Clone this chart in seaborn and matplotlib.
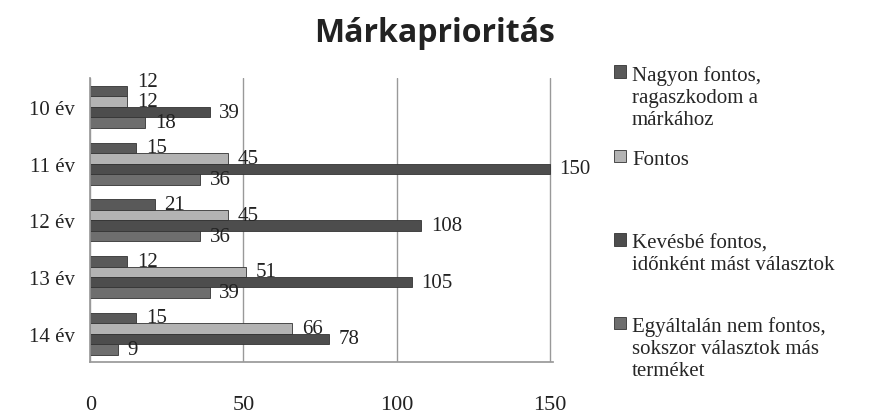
import pandas as pd
import matplotlib
matplotlib.use("Agg")
import matplotlib.pyplot as plt
import seaborn as sns

years = ["10 év", "11 év", "12 év", "13 év", "14 év"]
# blank lines keep the legend rows evenly spaced like the original
series = [
    "Nagyon fontos,\nragaszkodom a\nmárkához",
    "Fontos\n\n",
    "Kevésbé fontos,\nidőnként mást választok\n",
    "Egyáltalán nem fontos,\nsokszor választok más\nterméket",
]
nagyon = [12, 15, 21, 12, 15]
fontos = [12, 45, 45, 51, 66]
kevesbe = [39, 150, 108, 105, 78]
egyaltalan = [18, 36, 36, 39, 9]
colors = ["#595959", "#b3b3b3", "#4d4d4d", "#6e6e6e"]

rows = []
for name, vals in zip(series, [nagyon, fontos, kevesbe, egyaltalan]):
    for y, v in zip(years, vals):
        rows.append({"year": y, "series": name, "value": v})
df = pd.DataFrame(rows)

sns.set_theme(style="white")
plt.rcParams["font.family"] = ["Liberation Serif", "DejaVu Serif"]

fig = plt.figure(figsize=(8.93, 4.14), dpi=100)
ax = fig.add_axes([0.101, 0.123, 0.518, 0.685])

sns.barplot(data=df, x="value", y="year", hue="series", orient="h",
            palette=colors, width=0.74, edgecolor="#333333", linewidth=0.6,
            ax=ax, legend=True)

all_labels = []
for c in ax.containers:
    all_labels.append(ax.bar_label(c, fmt="%d", padding=7, fontsize=15, color="#222222"))

# the two "12" labels of the first group sit on top of each other; nudge the upper one
first = all_labels[0][0]
first.xyann = (first.xyann[0], first.xyann[1] + 7)

ax.set_xlim(0, 151)
ax.set_xticks([0, 50, 100, 150])
ax.xaxis.grid(True, color="#999999", linewidth=1)
ax.set_axisbelow(True)
ax.tick_params(axis="x", labelsize=16, pad=24, length=0, colors="#222222")
ax.tick_params(axis="y", labelsize=15, pad=11, length=0, colors="#222222")
ax.set_xlabel("")
ax.set_ylabel("")
for s in ["top", "right"]:
    ax.spines[s].set_visible(False)
for s in ["left", "bottom"]:
    ax.spines[s].set_color("#999999")

handles, labels = ax.get_legend_handles_labels()
ax.legend_.remove()
leg = fig.legend(handles, labels, loc="upper left", bbox_to_anchor=(0.667, 0.885),
                 frameon=False, fontsize=15, handlelength=0.55, handleheight=0.55,
                 handletextpad=0.3, labelspacing=1.0)
# put the square next to the first line of each entry
for col in leg._legend_handle_box.get_children():
    for row in col.get_children():
        row.align = "top"

fig.text(0.487, 0.92, "Márkaprioritás", ha="center", va="center",
         fontsize=23, fontweight="bold", family="Open Sans", color="#222222")

fig.savefig("out.png", dpi=100)
